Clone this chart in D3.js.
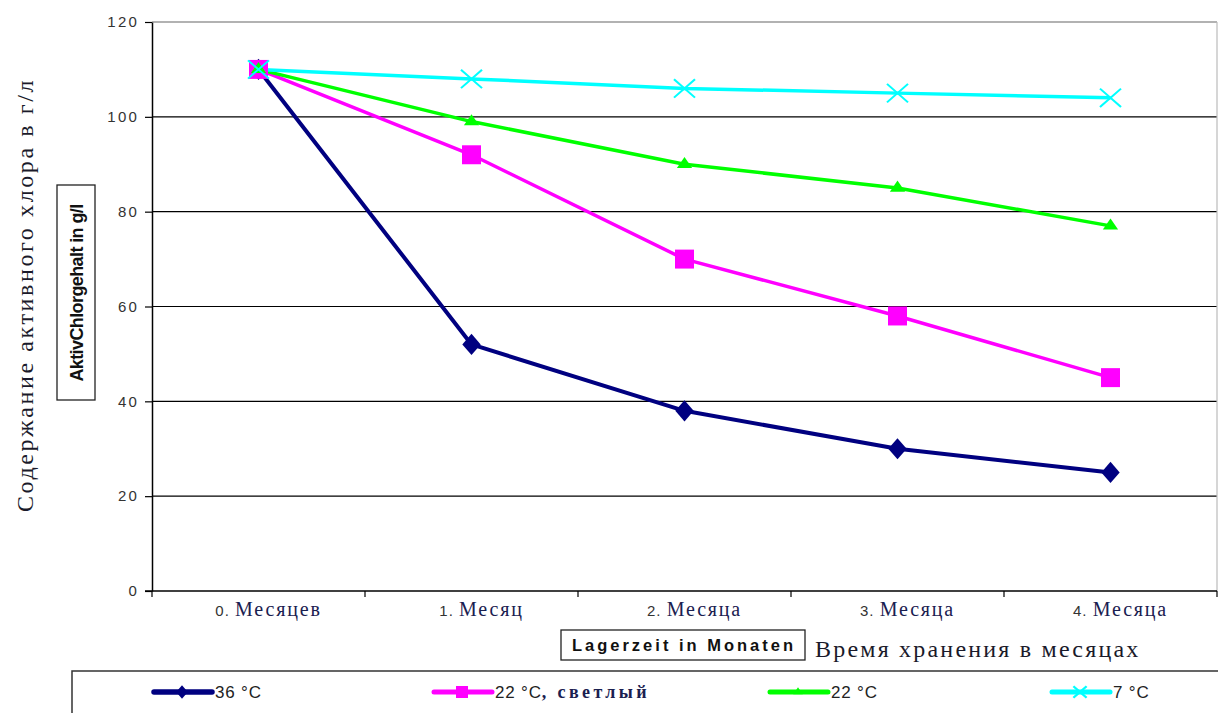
<!DOCTYPE html>
<html><head><meta charset="utf-8">
<script src="https://cdn.jsdelivr.net/npm/d3@7"></script>
<style>body{margin:0;background:#fff}svg{display:block}</style>
</head><body>
<svg id="c" width="1218" height="713"></svg>
<script>
const categories = ["0.|Месяцев", "1.|Месяц", "2.|Месяца", "3.|Месяца", "4.|Месяца"];
const s36 = [110, 52, 38, 30, 25];
const s22light = [110, 92, 70, 58, 45];
const s22 = [110, 99, 90, 85, 77];
const s7 = [110, 108, 106, 105, 104];
const yTicks = [0, 20, 40, 60, 80, 100, 120];
const seriesNames = ["36 °C", "22 °C, светлый", "22 °C", "7 °C"];

const series = [
  {name: seriesNames[0], values: s36, color: "#000080", width: 4, sym: d3.symbolDiamond, size: 130, sx: 1.5, fill: true},
  {name: seriesNames[1], values: s22light, color: "#FF00FF", width: 3.5, sym: d3.symbolSquare, size: 360, sx: 1, fill: true},
  {name: seriesNames[2], values: s22, color: "#00FF00", width: 3.5, sym: d3.symbolTriangle, size: 70, sx: 1.2, fill: true},
  {name: seriesNames[3], values: s7, color: "#00FFFF", width: 3.5, sym: d3.symbolTimes, size: 220, sx: 1.15, fill: false}
];

const svg = d3.select("#c");
const L = 152, R = 1217, T = 22, B = 591;
const x = d3.scaleBand().domain(categories).range([L, R]).padding(0);
const y = d3.scaleLinear().domain([0, 120]).range([B, T]);

// gridlines
svg.append("g").selectAll("line").data(yTicks.filter(d => d > 0 && d < 120)).join("line")
  .attr("x1", L).attr("x2", R).attr("y1", d => y(d)).attr("y2", d => y(d))
  .attr("stroke", "#000").attr("stroke-width", 1.2);
// top & right border
svg.append("line").attr("x1", L).attr("x2", R).attr("y1", y(120)).attr("y2", y(120)).attr("stroke", "#999").attr("stroke-width", 1.5);
svg.append("line").attr("x1", R).attr("x2", R).attr("y1", y(120)).attr("y2", B).attr("stroke", "#bbb").attr("stroke-width", 1.2);

// y axis
const ya = svg.append("g").attr("transform", `translate(${L},0)`)
  .call(d3.axisLeft(y).tickValues(yTicks).tickSize(7).tickPadding(6).tickSizeOuter(0));
ya.select(".domain").attr("stroke", "#000").attr("stroke-width", 1.5);
ya.selectAll(".tick line").attr("stroke", "#000").attr("stroke-width", 1.2);
ya.selectAll("text").attr("font-family", "Liberation Sans, Arial").attr("font-size", 15)
  .attr("letter-spacing", 2.2).attr("fill", "#333");

// x axis
const xa = svg.append("g").attr("transform", `translate(0,${B})`)
  .call(d3.axisBottom(x).tickSize(0).tickFormat(""));
xa.select(".domain").remove();
svg.append("line").attr("x1", L - 7).attr("x2", R).attr("y1", B).attr("y2", B).attr("stroke", "#000").attr("stroke-width", 1.5);
const bounds = categories.map(c => x(c)).concat([R]);
svg.append("g").selectAll("line").data(bounds).join("line")
  .attr("x1", d => d).attr("x2", d => d).attr("y1", B).attr("y2", B + 6)
  .attr("stroke", "#000").attr("stroke-width", 1.2);

const xl = svg.append("g").selectAll("text").data(categories).join("text")
  .attr("x", d => x(d) + x.bandwidth() / 2 + 10).attr("y", B + 25)
  .attr("text-anchor", "middle");
xl.append("tspan").attr("font-family", "Liberation Sans, Arial").attr("font-size", 15).attr("letter-spacing", 1).attr("fill", "#333")
  .text(d => d.split("|")[0] + " ");
xl.append("tspan").attr("font-family", "Liberation Serif, Times New Roman").attr("font-size", 20).attr("letter-spacing", 1.8).attr("fill", "#1a2050")
  .text(d => d.split("|")[1]);

// lines & markers
const line = d3.line().x((d, i) => x(categories[i]) + x.bandwidth() / 2).y(d => y(d));
series.forEach(s => {
  svg.append("path").datum(s.values).attr("d", line).attr("fill", "none")
    .attr("stroke", s.color).attr("stroke-width", s.width).attr("stroke-linejoin", "round");
});
series.forEach(s => {
  svg.append("g").selectAll("path").data(s.values).join("path")
    .attr("transform", (d, i) => `translate(${x(categories[i]) + x.bandwidth() / 2},${y(d)}) scale(${s.sx},1)`)
    .attr("d", d3.symbol(s.sym, s.size))
    .attr("fill", s.fill ? s.color : "none")
    .attr("stroke", s.color).attr("stroke-width", s.fill ? 0 : 1.8);
});

// y title
svg.append("text").attr("transform", "translate(33,295) rotate(-90)").attr("text-anchor", "middle")
  .attr("font-family", "Liberation Serif, Times New Roman").attr("font-size", 24).attr("letter-spacing", 2.6).attr("fill", "#1a1a2a")
  .text("Содержание активного хлора в г/л");
svg.append("rect").attr("x", 57).attr("y", 185).attr("width", 38).attr("height", 215)
  .attr("fill", "#fff").attr("stroke", "#222").attr("stroke-width", 1.3);
svg.append("text").attr("transform", "translate(83,293) rotate(-90)").attr("text-anchor", "middle")
  .attr("font-family", "Liberation Sans, Arial").attr("font-weight", "bold").attr("font-size", 18)
  .attr("letter-spacing", -0.6).attr("fill", "#111")
  .text("AktivChlorgehalt in g/l");

// x title
svg.append("rect").attr("x", 561).attr("y", 630).attr("width", 244).attr("height", 30)
  .attr("fill", "#fff").attr("stroke", "#222").attr("stroke-width", 1.3);
svg.append("text").attr("x", 684).attr("y", 651).attr("text-anchor", "middle")
  .attr("font-family", "Liberation Sans, Arial").attr("font-weight", "bold").attr("font-size", 16.5).attr("letter-spacing", 3).attr("fill", "#111")
  .text("Lagerzeit in Monaten");
svg.append("text").attr("x", 815).attr("y", 657)
  .attr("font-family", "Liberation Serif, Times New Roman").attr("font-size", 24).attr("letter-spacing", 2.2).attr("fill", "#1a1a2a")
  .text("Время хранения в месяцах");

// legend
svg.append("path").attr("d", `M72,713 L72,671 L1218,671`).attr("fill", "none").attr("stroke", "#333").attr("stroke-width", 1.5);
const legX = [152, 432, 768, 1050];
series.forEach((s, i) => {
  const g = svg.append("g").attr("transform", `translate(${legX[i]},692)`);
  g.append("line").attr("x1", 2).attr("x2", 60).attr("y1", 0).attr("y2", 0)
    .attr("stroke", s.color).attr("stroke-width", s.width + 1.5).attr("stroke-linecap", "round");
  g.append("path").attr("transform", `translate(30,0) scale(${s.sx},1)`).attr("d", d3.symbol(s.sym, s.size * 0.4))
    .attr("fill", s.fill ? s.color : "none").attr("stroke", s.color).attr("stroke-width", s.fill ? 0 : 2);
  const t = g.append("text").attr("x", 63).attr("y", 6).attr("fill", "#222");
  const parts = s.name.split(", ");
  t.append("tspan").attr("font-family", "Liberation Sans, Arial").attr("font-size", 17).attr("letter-spacing", 0.8).text(parts[0]);
  if (parts[1]) t.append("tspan").attr("font-family", "Liberation Serif, Times New Roman").attr("font-size", 18)
    .attr("font-weight", "bold").attr("letter-spacing", 3.4).attr("fill", "#1a2050").text(", " + parts[1]);
});
</script>
</body></html>
